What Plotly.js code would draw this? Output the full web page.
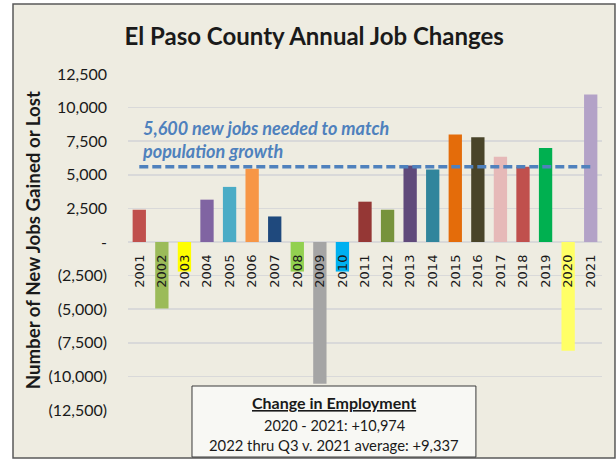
<!DOCTYPE html>
<html>
<head>
<meta charset="utf-8">
<script src="https://cdn.plot.ly/plotly-3.0.1.min.js"></script>
<style>html,body{margin:0;padding:0;background:#fff;}#chart{width:616px;height:459px;}</style>
</head>
<body>
<div id="chart"></div>
<script>
// ---- data ----
const years = ['2001','2002','2003','2004','2005','2006','2007','2008','2009','2010','2011',
               '2012','2013','2014','2015','2016','2017','2018','2019','2020','2021'];
const jobChanges = [2400, -4950, -2200, 3150, 4100, 5450, 1900, -2200, -10550, -2200, 3000,
                    2400, 5700, 5400, 8000, 7800, 6350, 5600, 7000, -8100, 10974];
const barColors = ['#C0504D','#9BBB59','#FFFF00','#8064A2','#4BACC6','#F79646','#1F497D','#92D050',
                   '#A5A5A5','#00B0F0','#953735','#77933C','#604A7B','#31859C','#E46C0A','#494429',
                   '#E6B9B8','#C0504D','#00B050','#FFFF66','#B3A2C7'];
const targetJobs = 5600;
const targetYears = ['2001','2021'];
const yTickVals = [-12500,-10000,-7500,-5000,-2500,0,2500,5000,7500,10000,12500];
const yTickText = ['(12,500)','(10,000)','(7,500)','(5,000)','(2,500)','-','2,500','5,000','7,500','10,000','12,500'];
const titleText = 'El Paso County Annual Job Changes';
const yTitleText = 'Number of New Jobs Gained or Lost';
const noteText = '5,600 new jobs needed to match<br>population growth';
const boxLines = ['<b><u>Change in Employment</u></b>', '2020 - 2021: +10,974', '2022 thru Q3 v. 2021 average: +9,337'];
const boxSizes = [16, 14.5, 14.8];

// ---- chart ----
const FONT = 'Lato, "Open Sans", sans-serif';
const traces = [
  {type:'bar', x: years, y: jobChanges, marker:{color: barColors, line:{width:0}}, hoverinfo:'x+y'},
  {type:'scatter', mode:'lines', x: targetYears, y: targetYears.map(()=>targetJobs),
   line:{color:'#4F81BD', width:3.5, dash:'9px,4px'}, hoverinfo:'skip'}
];

const boxY = [0.021, -0.045, -0.104];
const annotations = [
  {xref:'paper', yref:'paper', x:0.026, y:0.8065, xanchor:'left', yanchor:'middle', align:'left',
   showarrow:false, text: '<b><i>'+noteText.replace('<br>','</i></b><br><b><i>')+'</i></b>',
   font:{family:FONT, size:18, color:'#4F81BD'}},
  {xref:'paper', yref:'paper', x:-0.2004, y:0.505, xanchor:'center', yanchor:'middle', textangle:-90,
   showarrow:false, text:'<b>'+yTitleText+'</b>', font:{family:FONT, size:18.7, color:'#1a1a1a'}}
];
boxLines.forEach((t,i)=>annotations.push({xref:'paper', yref:'paper', x:0.4346, y:boxY[i],
  xanchor:'center', yanchor:'middle', showarrow:false, text:t, font:{family:FONT, size:boxSizes[i], color:'#1a1a1a'}}));

const layout = {
  width:616, height:459,
  margin:{l:128, r:14, t:74, b:49},
  paper_bgcolor:'#ffffff', plot_bgcolor:'rgba(0,0,0,0)',
  showlegend:false, bargap:0.41,
  title:{text:'<b>'+titleText+'</b>', xref:'container', yref:'container', x:0.51, y:0.921,
         xanchor:'center', yanchor:'middle', font:{family:FONT, size:24, color:'#1a1a1a'}},
  xaxis:{type:'category', anchor:'free', position:0.5, showline:false, showgrid:false, zeroline:false,
         ticks:'', tickangle:-90, ticklabelstandoff:9,
         tickfont:{family:'"DejaVu Sans", sans-serif', size:13, color:'#1a1a1a'}},
  yaxis:{range:[-12500,12500], tickvals:yTickVals, ticktext:yTickText, showline:false,
         gridcolor:'#D9D9D9', gridwidth:1.5, zeroline:true, zerolinecolor:'#D9D9D9', zerolinewidth:1.5,
         ticks:'', ticklabelstandoff:20, tickfont:{family:FONT, size:16, color:'#1a1a1a'}},
  shapes:[
    {type:'rect', xref:'paper', yref:'paper', x0:-0.2426, x1:1.0274, y0:-0.1429, y1:1.2083,
     fillcolor:'#EEECE1', line:{color:'#595959', width:1.5}, layer:'below'},
    {type:'rect', xref:'paper', yref:'paper', x0:0.135, x1:0.734, y0:-0.1399, y1:0.0714,
     fillcolor:'#F8F8F4', line:{color:'#3a3a3a', width:1}, layer:'above'}
  ],
  annotations: annotations
};
Plotly.newPlot('chart', traces, layout, {displayModeBar:false, staticPlot:true});
</script>
</body>
</html>
